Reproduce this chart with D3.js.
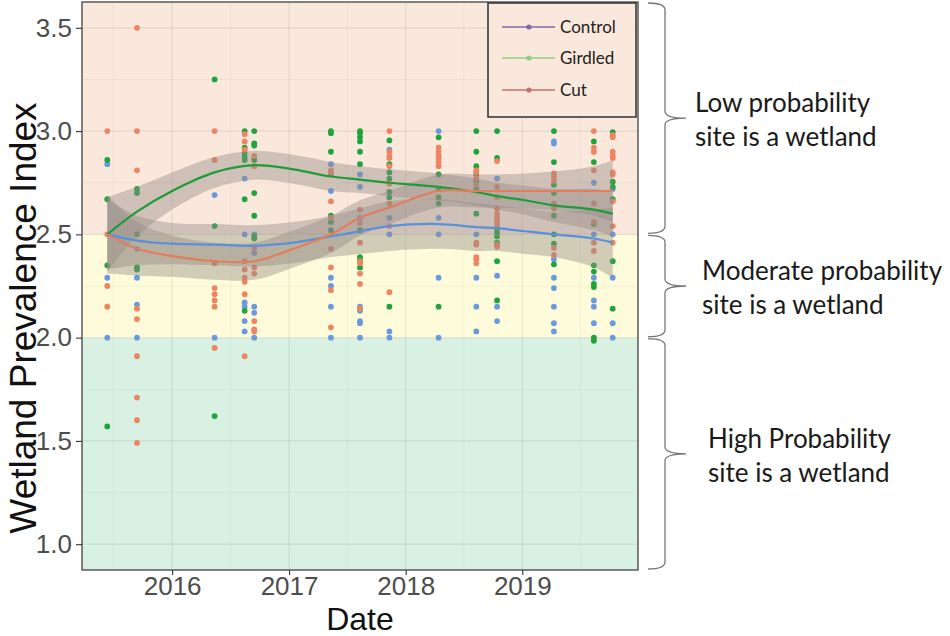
<!doctype html>
<html lang="en">
<head>
<meta charset="utf-8">
<title>Wetland Prevalence Index</title>
<script src="https://cdnjs.cloudflare.com/ajax/libs/d3/7.8.5/d3.min.js"></script>
<style>
  body { margin: 0; background: #fff; }
  svg { display: block; }
</style>
</head>
<body>
<script>

// sampling visits (one column of points per visit)
var sampleDates = ["2015-06-12", "2015-09-13", "2016-05-13", "2016-08-15", "2016-09-14",
                   "2017-05-12", "2017-08-11", "2017-11-11", "2018-04-14", "2018-08-10",
                   "2018-10-14", "2019-04-10", "2019-08-13", "2019-10-11"];

// plot values per visit
var controlPoints = [
    [2.84, 2.29, 2.00],
    [2.43, 2.29, 2.16, 2.00],
    [2.69, 2.00],
    [2.77, 2.50, 2.17, 2.15, 2.08, 2.03],
    [2.50, 2.41, 2.15, 2.12, 2.00],
    [2.84, 2.71, 2.29, 2.25, 2.15, 2.00],
    [2.79, 2.73, 2.58, 2.52, 2.15, 2.13, 2.08, 2.07, 2.00],
    [2.91, 2.58, 2.50, 2.03, 2.00],
    [3.00, 2.58, 2.50, 2.29, 2.00],
    [2.50, 2.29, 2.15, 2.03],
    [2.77, 2.30, 2.15, 2.08],
    [2.95, 2.94, 2.38, 2.29, 2.24, 2.15, 2.07, 2.03],
    [2.75, 2.50, 2.29, 2.18, 2.15, 2.07],
    [2.72, 2.50, 2.29, 2.07, 2.00]
];
var girdledPoints = [
    [2.86, 2.67, 2.35, 1.57],
    [2.72, 2.70, 2.50, 2.34, 2.33],
    [3.25, 2.54, 1.62],
    [3.00, 2.92, 2.895, 2.875, 2.86, 2.67, 2.13],
    [3.00, 2.94, 2.93, 2.86, 2.70, 2.59, 2.49, 2.48],
    [3.00, 2.99, 2.90, 2.79, 2.59, 2.56, 2.52],
    [3.00, 2.99, 2.97, 2.95, 2.90, 2.84, 2.52, 2.39, 2.38, 2.34],
    [2.955, 2.84, 2.80, 2.77, 2.705, 2.68, 2.15],
    [2.97, 2.79, 2.72, 2.68, 2.65, 2.15],
    [3.00, 2.90, 2.83, 2.79, 2.76, 2.72, 2.60],
    [3.00, 2.87, 2.53, 2.51, 2.49, 2.46, 2.37, 2.18],
    [3.00, 2.85, 2.74, 2.70, 2.59, 2.50, 2.455, 2.355],
    [2.95, 2.85, 2.55, 2.35, 2.32, 2.26, 2.245, 2.00, 1.985],
    [2.995, 2.755, 2.73, 2.67, 2.37, 2.14]
];
var cutPoints = [
    [3.00, 2.50, 2.25, 2.15],
    [3.50, 3.00, 2.81, 2.14, 2.09, 1.91, 1.71, 1.60, 1.49],
    [3.00, 2.86, 2.36, 2.24, 2.21, 2.18, 2.15, 1.95],
    [2.985, 2.95, 2.91, 2.37, 2.33, 2.29, 2.27, 2.21, 1.91],
    [2.88, 2.83, 2.435, 2.34, 2.31, 2.08, 2.04, 2.03],
    [2.81, 2.80, 2.66, 2.58, 2.43, 2.34, 2.23, 2.05],
    [2.62, 2.555, 2.46, 2.37, 2.36, 2.31, 2.26, 2.14],
    [3.00, 2.90, 2.88, 2.87, 2.83, 2.745, 2.65, 2.54, 2.22],
    [2.92, 2.90, 2.88, 2.87, 2.85, 2.83],
    [2.81, 2.80, 2.77, 2.74, 2.46, 2.45, 2.39, 2.38, 2.36],
    [2.855, 2.73, 2.68, 2.625, 2.60, 2.58, 2.565, 2.55, 2.45, 2.44],
    [2.795, 2.78, 2.76, 2.65, 2.64, 2.625, 2.435, 2.40],
    [3.00, 2.92, 2.90, 2.81, 2.65, 2.56, 2.46, 2.42],
    [2.98, 2.97, 2.90, 2.88, 2.87, 2.80, 2.79, 2.66, 2.54, 2.46]
];

// smoothed trend and half width of its confidence band
var fitDates = ["2015-06-12", "2015-09-13", "2016-01-01", "2016-05-13", "2016-09-14", "2017-01-15",
                "2017-05-12", "2017-08-11", "2017-11-11", "2018-04-14", "2018-08-10", "2018-10-14",
                "2019-01-10", "2019-04-10", "2019-08-13", "2019-10-11"];
var controlFit = [2.50, 2.47, 2.455, 2.45, 2.445, 2.46, 2.49, 2.515, 2.54, 2.55, 2.535, 2.53, 2.515, 2.50, 2.48, 2.46];
var girdledFit = [2.50, 2.61, 2.71, 2.80, 2.835, 2.815, 2.78, 2.765, 2.75, 2.73, 2.705, 2.685, 2.665, 2.64, 2.62, 2.60];
var cutFit     = [2.50, 2.43, 2.395, 2.37, 2.37, 2.43, 2.50, 2.58, 2.63, 2.71, 2.71, 2.71, 2.71, 2.71, 2.71, 2.71];
var controlBand = [0.17, 0.12, 0.10, 0.10, 0.10, 0.10, 0.10, 0.11, 0.12, 0.12, 0.115, 0.11, 0.11, 0.11, 0.14, 0.17];
var girdledBand = [0.18, 0.12, 0.09, 0.075, 0.07, 0.07, 0.07, 0.065, 0.065, 0.065, 0.065, 0.065, 0.07, 0.08, 0.10, 0.11];
var cutBand     = [0.19, 0.13, 0.10, 0.09, 0.09, 0.09, 0.09, 0.085, 0.08, 0.08, 0.08, 0.08, 0.085, 0.095, 0.12, 0.15];

var seriesNames = ["Control", "Girdled", "Cut"];
var zoneBreaks = [2.0, 2.5];
var zoneLabels = [["High Probability", "site is a wetland"],
                  ["Moderate probability", "site is a wetland"],
                  ["Low probability", "site is a wetland"]];
var yTicks = [1.0, 1.5, 2.0, 2.5, 3.0, 3.5];
var yMinorTicks = [1.25, 1.75, 2.25, 2.75, 3.25];
var xTickYears = ["2016", "2017", "2018", "2019"];
var xMinorTicks = ["2015-07-02", "2016-07-02", "2017-07-02", "2018-07-02", "2019-07-02"];

// styles
var pointColors = ["#6a9ade", "#1fa33d", "#ee8462"];
var lineColors = ["#5b90da", "#1f9c3a", "#e37d5b"];
var legendColors = ["#7b6ca6", "#8fd184", "#c4716b"];
var zoneColors = ["#d8f1e3", "#fdfbda", "#fae8dc"];

var svgW = 950, svgH = 636;
var margin = {top: 2, right: 312, bottom: 66, left: 82};
var w = svgW - margin.left - margin.right;
var h = svgH - margin.top - margin.bottom;

var parse = d3.timeParse("%Y-%m-%d");
var dates = sampleDates.map(parse);
var ext = d3.extent(dates);
var pad = (ext[1] - ext[0]) * 0.05;

var x = d3.scaleTime()
          .domain([new Date(+ext[0] - pad), new Date(+ext[1] + pad)])
          .range([0, w]);
var y = d3.scaleLinear()
          .domain([0.875, 3.625])
          .range([h, 0]);

var svg = d3.select("body")
            .append("svg")
            .attr("width", svgW)
            .attr("height", svgH);
var g = svg.append("g")
           .attr("transform", "translate(" + margin.left + "," + margin.top + ")");

// probability zones
var zoneEdges = [y.domain()[0]].concat(zoneBreaks, [y.domain()[1]]);
g.selectAll("rect.zone")
 .data(d3.range(zoneEdges.length - 1))
 .enter()
 .append("rect")
 .attr("class", "zone")
 .attr("x", 0)
 .attr("width", w)
 .attr("y", i => y(zoneEdges[i + 1]))
 .attr("height", i => y(zoneEdges[i]) - y(zoneEdges[i + 1]))
 .attr("fill", i => zoneColors[i]);

// grid
var grid = g.append("g").attr("stroke", "#000").attr("fill", "none");
grid.selectAll("line.ymin").data(yMinorTicks).enter().append("line")
    .attr("x1", 0).attr("x2", w).attr("y1", y).attr("y2", y)
    .attr("stroke-opacity", 0.06).attr("stroke-width", 0.7);
grid.selectAll("line.ymaj").data(yTicks).enter().append("line")
    .attr("x1", 0).attr("x2", w).attr("y1", y).attr("y2", y)
    .attr("stroke-opacity", 0.08).attr("stroke-width", 1.2);
grid.selectAll("line.xmin").data(xMinorTicks.map(parse)).enter().append("line")
    .attr("y1", 0).attr("y2", h).attr("x1", x).attr("x2", x)
    .attr("stroke-opacity", 0.06).attr("stroke-width", 0.7);
grid.selectAll("line.xmaj").data(xTickYears.map(d => parse(d + "-01-01"))).enter().append("line")
    .attr("y1", 0).attr("y2", h).attr("x1", x).attr("x2", x)
    .attr("stroke-opacity", 0.08).attr("stroke-width", 1.2);

// points
[controlPoints, girdledPoints, cutPoints].forEach(function(cols, s) {
    var pts = [];
    cols.forEach(function(vals, i) {
        vals.forEach(v => pts.push({date: dates[i], v: v}));
    });
    g.append("g")
     .selectAll("circle")
     .data(pts)
     .enter()
     .append("circle")
     .attr("cx", d => x(d.date))
     .attr("cy", d => y(d.v))
     .attr("r", 2.9)
     .attr("fill", pointColors[s]);
});

// smooth + confidence ribbons
var fitD = fitDates.map(parse);
var fits = [controlFit, girdledFit, cutFit];
var bands = [controlBand, girdledBand, cutBand];

var area = d3.area()
             .x(d => x(d.date))
             .y0(d => y(d.fit - d.se))
             .y1(d => y(d.fit + d.se))
             .curve(d3.curveCatmullRom);
var line = d3.line()
             .x(d => x(d.date))
             .y(d => y(d.fit))
             .curve(d3.curveCatmullRom);

var fitRows = fits.map((f, s) => fitD.map((d, i) => ({date: d, fit: f[i], se: bands[s][i]})));

g.selectAll("path.ribbon")
 .data(fitRows)
 .enter()
 .append("path")
 .attr("class", "ribbon")
 .attr("d", area)
 .attr("fill", "#948a86")
 .attr("fill-opacity", 0.42);

g.selectAll("path.fit")
 .data(fitRows)
 .enter()
 .append("path")
 .attr("class", "fit")
 .attr("d", line)
 .attr("fill", "none")
 .attr("stroke", (_, i) => lineColors[i])
 .attr("stroke-width", 2.2);

// panel border
g.append("rect")
 .attr("width", w)
 .attr("height", h)
 .attr("fill", "none")
 .attr("stroke", "#333")
 .attr("stroke-width", 1.2);

// axes
var yAxis = g.append("g")
             .call(d3.axisLeft(y).tickValues(yTicks).tickSize(6).tickPadding(4).tickFormat(d3.format(".1f")));
var xAxis = g.append("g")
             .attr("transform", "translate(0," + h + ")")
             .call(d3.axisBottom(x).tickValues(xTickYears.map(d => parse(d + "-01-01")))
                   .tickSize(5).tickPadding(2).tickFormat(d3.timeFormat("%Y")));
[yAxis, xAxis].forEach(function(a) {
    a.select(".domain").remove();
    a.selectAll("line").attr("stroke", "#333").attr("stroke-width", 1.1);
    a.selectAll("text")
     .attr("font-family", "'Liberation Sans', Arial, sans-serif")
     .attr("font-size", "26px")
     .attr("fill", "#4d4d4d");
});

svg.append("text")
   .attr("x", margin.left + w / 2)
   .attr("y", 630)
   .attr("text-anchor", "middle")
   .attr("font-family", "'Liberation Sans', Arial, sans-serif")
   .attr("font-size", "32px")
   .attr("fill", "#111")
   .text("Date");

svg.append("text")
   .attr("transform", "translate(36,318) rotate(-90)")
   .attr("text-anchor", "middle")
   .attr("font-family", "'Liberation Sans', Arial, sans-serif")
   .attr("font-size", "37px")
   .attr("fill", "#111")
   .text("Wetland Prevalence Index");

// legend
var legend = svg.append("g").attr("transform", "translate(488,3)");
legend.append("rect")
      .attr("width", 148)
      .attr("height", 114)
      .attr("fill", zoneColors[2])
      .attr("stroke", "#3a3a3a")
      .attr("stroke-width", 1.6);
var item = legend.selectAll("g.item")
                 .data(seriesNames)
                 .enter()
                 .append("g")
                 .attr("class", "item")
                 .attr("transform", (_, i) => "translate(0," + [24, 55, 87][i] + ")");
item.append("line")
    .attr("x1", 14).attr("x2", 67)
    .attr("stroke", (_, i) => legendColors[i])
    .attr("stroke-width", 1.6);
item.append("circle")
    .attr("cx", 41).attr("r", 2.6)
    .attr("fill", (_, i) => legendColors[i]);
item.append("text")
    .attr("x", 72)
    .attr("dy", "0.35em")
    .attr("font-family", "Lato, 'Open Sans', sans-serif")
    .attr("font-size", "17px")
    .attr("fill", "#222")
    .text(d => d);

// braces with zone labels
var braceX0 = 648, braceX1 = 665, braceTip = 686;
var labelX = [708, 702, 695];
var braceG = svg.append("g");
d3.range(zoneEdges.length - 1).forEach(function(i) {
    var yb = margin.top + y(zoneEdges[i]) - 1;
    var yt = margin.top + y(zoneEdges[i + 1]) + 1;
    var ym = (yb + yt) / 2;
    var r = 7;
    var p = d3.path();
    p.moveTo(braceX0, yt);
    p.quadraticCurveTo(braceX1, yt, braceX1, yt + r);
    p.lineTo(braceX1, ym - r);
    p.quadraticCurveTo(braceX1, ym, braceTip, ym);
    p.quadraticCurveTo(braceX1, ym, braceX1, ym + r);
    p.lineTo(braceX1, yb - r);
    p.quadraticCurveTo(braceX1, yb, braceX0, yb);
    braceG.append("path")
          .attr("d", p.toString())
          .attr("fill", "none")
          .attr("stroke", "#777")
          .attr("stroke-width", 1.3);

    var t = svg.append("text")
               .attr("x", labelX[i])
               .attr("y", ym - 6)
               .attr("font-family", "Lato, 'Open Sans', sans-serif")
               .attr("font-size", "26px")
               .attr("fill", "#1a1a1a");
    zoneLabels[i].forEach(function(s, k) {
        t.append("tspan")
         .attr("x", labelX[i])
         .attr("dy", k === 0 ? 0 : 34)
         .text(s);
    });
});

</script>
</body>
</html>
